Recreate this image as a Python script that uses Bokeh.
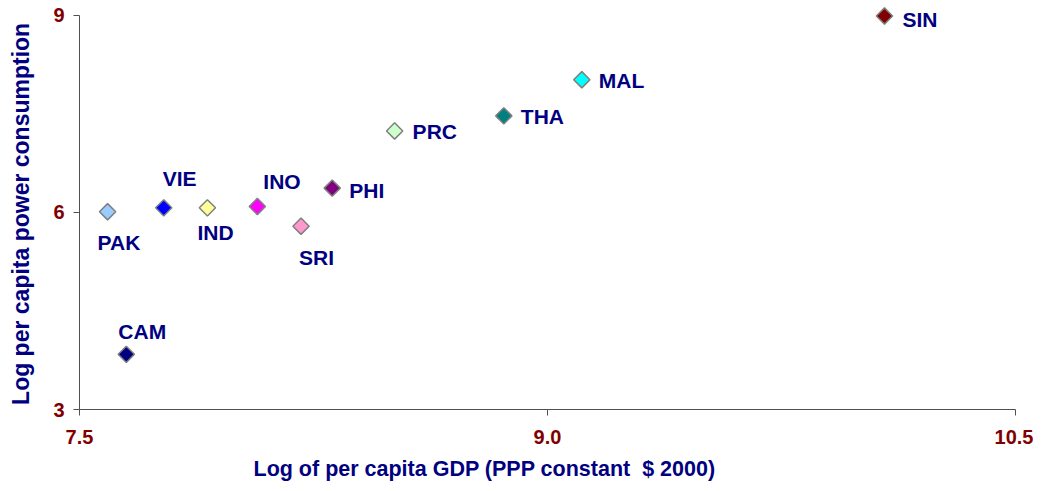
from bokeh.plotting import figure
from bokeh.models import Range1d, FixedTicker, PrintfTickFormatter, ColumnDataSource, Title
from bokeh.core.properties import value
from bokeh.embed import file_html
from bokeh.resources import INLINE

# ---- data ----
countries = ["PAK", "VIE", "IND", "INO", "SRI", "PHI", "CAM", "PRC", "THA", "MAL", "SIN"]
log_gdp = [7.59, 7.77, 7.91, 8.07, 8.21, 8.31, 7.65, 8.51, 8.86, 9.11, 10.08]
log_power = [6.01, 6.07, 6.07, 6.09, 5.79, 6.37, 3.84, 7.24, 7.47, 8.02, 8.99]
x_ticks = [7.5, 9.0, 10.5]
y_ticks = [3, 6, 9]

# ---- styles ----
colors = ["#99CCFF", "#0000FF", "#FFFF99", "#FF00FF", "#FF99CC", "#800080",
          "#000080", "#CCFFCC", "#008080", "#00FFFF", "#800000"]
label_dx = [-10, -1, -10, 6, -2, 17, -8, 18, 17, 17, 18]
label_dy = [31, -29, 25, -25, 31, 2, -23, 1, 1, 1, 3]

NAVY = "#000080"
DARKRED = "#800000"
FONT = "Liberation Sans"

src = ColumnDataSource(dict(x=log_gdp, y=log_power, name=countries, color=colors,
                            dx=label_dx, dy=label_dy))

# y range padded a little above 9 so the top marker is not clipped; axis bounded to 3..9
p = figure(width=1033, height=488,
           x_range=Range1d(7.5, 10.5), y_range=Range1d(3, 9.15),
           output_backend="svg", toolbar_location=None,
           min_border_left=79, min_border_right=18, min_border_top=5, min_border_bottom=74)
p.outline_line_color = None
p.xgrid.visible = False
p.ygrid.visible = False
p.background_fill_color = "white"
p.border_fill_color = "white"

for ax in (p.xaxis[0], p.yaxis[0]):
    ax.axis_line_color = "#505050"
    ax.major_tick_line_color = "#505050"
    ax.minor_tick_line_color = None
    ax.major_tick_in = 0
    ax.major_tick_out = 6
    ax.major_label_text_color = DARKRED
    ax.major_label_text_font = FONT
    ax.major_label_text_font_style = "bold"
    ax.major_label_text_font_size = "20px"

p.xaxis.ticker = FixedTicker(ticks=x_ticks)
p.xaxis.formatter = PrintfTickFormatter(format="%.1f")
p.xaxis.major_label_standoff = 14

p.yaxis.ticker = FixedTicker(ticks=y_ticks)
p.yaxis.bounds = (3, 9)
p.yaxis.formatter = PrintfTickFormatter(format="%d")
p.yaxis.major_label_standoff = 9
p.yaxis.axis_label = "Log per capita power consumption\u00a0\u00a0"
p.yaxis.axis_label_text_color = NAVY
p.yaxis.axis_label_text_font = FONT
p.yaxis.axis_label_text_font_style = "bold"
p.yaxis.axis_label_text_font_size = "23px"
p.yaxis.axis_label_standoff = 16

p.scatter(x="x", y="y", source=src, marker="square", angle=0.785398, size=11.5,
          fill_color="color", line_color="#808080", line_width=1.5)

p.text(x="x", y="y", text="name", source=src, x_offset="dx", y_offset="dy",
       text_align="left", text_baseline="middle", text_color=NAVY,
       text_font=value(FONT), text_font_style="bold", text_font_size="21px")

xtitle = Title(text="Log of per capita GDP (PPP constant\u00a0 $ 2000)", align="left", offset=174,
               text_color=NAVY, text_font=FONT, text_font_style="bold",
               text_font_size="21.5px", standoff=16)
p.add_layout(xtitle, "below")

open("out.html", "w").write(file_html(p, INLINE))
